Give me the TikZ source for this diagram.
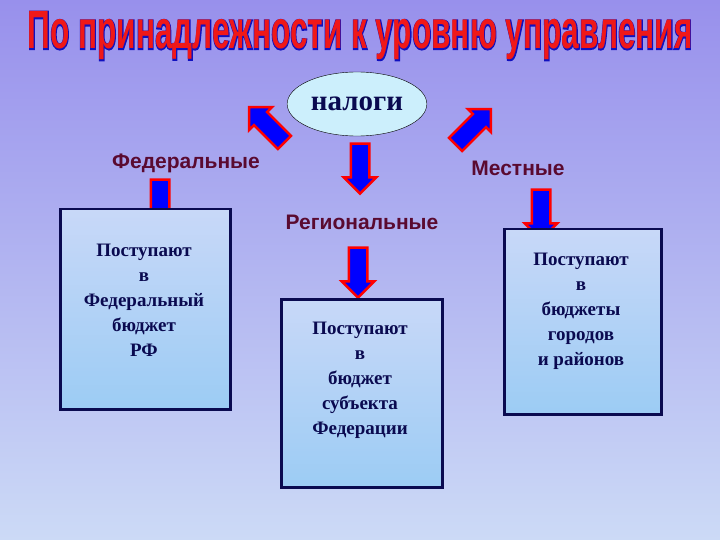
\documentclass[tikz,border=0pt]{standalone}
\usepackage{fontspec}
\setmainfont{Liberation Serif}
\newfontfamily\lsans{Liberation Sans}
\newfontfamily\lsansfat{Liberation Sans}[FakeBold=4]
\usetikzlibrary{shapes.geometric,shapes.arrows}
\definecolor{bgtop}{HTML}{9890EC}
\definecolor{bgbot}{HTML}{CCDAF6}
\definecolor{lab}{HTML}{5A0A30}
\definecolor{boxtxt}{HTML}{0A0A50}
\definecolor{boxtop}{HTML}{C8D8F8}
\definecolor{boxbot}{HTML}{9CCCF4}
\definecolor{ttl}{HTML}{F01818}
\definecolor{ttlb}{HTML}{1010C0}
\tikzset{
 x=1pt,y=-1pt,
 barrow/.style={single arrow, draw=red, line width=2.5pt, fill=blue, minimum height=50pt, single arrow head extend=7pt, inner sep=8pt},
 lbl/.style={text=lab, font=\lsans\bfseries\fontsize{21}{24}\selectfont},
 infobox/.style={draw=boxtxt, line width=2.5pt, top color=boxtop, bottom color=boxbot, anchor=north west},
 boxtext/.style={text=boxtxt, align=center, font=\bfseries\fontsize{19}{25}\selectfont}
}
\begin{document}
\begin{tikzpicture}
\shade[top color=bgtop,bottom color=bgbot] (0,0) rectangle (720,540);
\useasboundingbox (0,0) rectangle (720,540);
\node (titleb) [text=ttlb, font=\lsansfat\bfseries\fontsize{54}{58}\selectfont, xscale=0.585] at (360,36) {По принадлежности к уровню управления};
\node (title) [text=ttl, font=\lsans\bfseries\fontsize{54}{58}\selectfont, xscale=0.585] at (360,36) {По принадлежности к уровню управления};
\node (tax) [ellipse, draw=black, fill=cyan!20, minimum width=118pt, minimum height=64pt, text=boxtxt, font=\bfseries\fontsize{29}{32}\selectfont] at (357,104) {налоги};
\node (a1) [barrow, rotate=135] at (270,128) {};
\node (a2) [barrow, rotate=45] at (470,130) {};
\node (a3) [barrow, rotate=-90] at (360,164) {};
\node (a4) [barrow, rotate=-90] at (160,200) {};
\node (a5) [barrow, rotate=-90] at (541,210) {};
\node (a6) [barrow, rotate=-90] at (358,268) {};
\node (fed) [lbl] at (186,163) {Федеральные};
\node (loc) [lbl] at (518,168) {Местные};
\node (reg) [lbl] at (362,222) {Региональные};
\node (b1) [infobox, minimum width=170pt, minimum height=200pt] at (59,208) {};
\node (t1) [boxtext] at (144,300) {Поступают\\в\\Федеральный\\бюджет\\РФ};
\node (b2) [infobox, minimum width=161pt, minimum height=188pt] at (280,298) {};
\node (t2) [boxtext] at (360,380) {Поступают\\в\\бюджет\\субъекта\\Федерации};
\node (b3) [infobox, minimum width=157pt, minimum height=185pt] at (503,228) {};
\node (t3) [boxtext] at (581,311) {Поступают\\в\\бюджеты\\городов\\и районов};
\end{tikzpicture}
\end{document}
